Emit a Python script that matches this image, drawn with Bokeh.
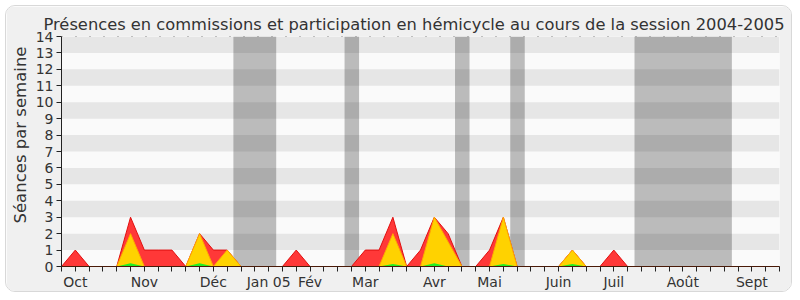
from bokeh.plotting import figure
from bokeh.models import FixedTicker, Title
from bokeh.embed import file_html
from bokeh.resources import INLINE

# ---- data (x = week index of the session, 0..52) ----
weeks = list(range(53))
total_presence = [0, 1, 0, 0, 0, 3, 1, 1, 1, 0, 2, 1, 1, 0, 0, 0, 0, 1, 0, 0,
                  0, 0, 1, 1, 3, 0, 1, 3, 2, 0, 0, 1, 3, 0, 0, 0, 0, 1, 0, 0,
                  1, 0, 0, 0, 0, 0, 0, 0, 0, 0, 0, 0, 0]
hemicycle = [0, 0, 0, 0, 0, 2, 0, 0, 0, 0, 2, 0, 1, 0, 0, 0, 0, 0, 0, 0,
             0, 0, 0, 0, 2, 0, 0, 3, 1.5, 0, 0, 0, 3, 0, 0, 0, 0, 1, 0, 0,
             0, 0, 0, 0, 0, 0, 0, 0, 0, 0, 0, 0, 0]
interventions = [0, 0, 0, 0, 0, 0.2, 0, 0, 0, 0, 0.2, 0, 0, 0, 0, 0, 0, 0, 0, 0,
                 0, 0, 0, 0, 0.15, 0, 0, 0.2, 0, 0, 0, 0, 0.15, 0, 0, 0, 0, 0.15, 0, 0,
                 0, 0, 0, 0, 0, 0, 0, 0, 0, 0, 0, 0, 0]
vac_start = [12.45, 20.5, 28.5, 32.5, 41.5]
vac_end = [15.55, 21.55, 29.55, 33.55, 48.55]
month_ticks = [1, 6, 11, 15, 18, 22, 27, 31, 36, 40, 45, 50]
month_labels = ["Oct", "Nov", "Déc", "Jan 05", "Fév", "Mar", "Avr", "Mai",
                "Juin", "Juil", "Août", "Sept"]
y_ticks = list(range(15))
title_text = "Présences en commissions et participation en hémicycle au cours de la session 2004-2005"
y_label_text = "Séances par semaine"

FONT = "DejaVu Sans"
TXT = "#333333"

p = figure(width=787, height=287, x_range=(0, 52), y_range=(0, 14),
           output_backend="svg", toolbar_location=None,
           min_border_left=55, min_border_right=14, min_border_top=30,
           min_border_bottom=27)
p.margin = (5, 0, 0, 5)
p.styles = {"border": "1px solid #d8d8d8", "border-radius": "10px", "overflow": "hidden"}
p.border_fill_color = "#f0f0f0"
p.background_fill_color = "#fafafa"
p.outline_line_color = None
p.grid.visible = False

# title
p.title.text = title_text
p.title.text_font = FONT
p.title.text_font_size = "16.3px"
p.title.text_font_style = "normal"
p.title.text_color = TXT
p.title.align = "left"
p.title.offset = -18
p.title.standoff = 6

# y-axis label as a left title (lets it be shifted along the axis)
p.add_layout(Title(text=y_label_text, text_font=FONT, text_font_size="16.5px",
                   text_font_style="normal", text_color=TXT, align="left",
                   offset=43, standoff=5), "left")

# holidays
p.quad(left=vac_start, right=vac_end, bottom=0, top=14,
       fill_color="#bbbbbb", line_color=None)
# alternating stripes
stripe_b = [v for v in y_ticks[1:14:2]]
stripe_t = [v + 1 for v in stripe_b]
p.quad(left=0, right=52, bottom=stripe_b, top=stripe_t,
       fill_color="black", fill_alpha=0.08, line_color=None)

# top dotted line
p.line([0, 52], [14, 14], line_color="#222222", line_width=1, line_dash="1 13")

# series
p.varea(x=weeks, y1=0, y2=total_presence, fill_color="#ff3838")
p.line(weeks, total_presence, line_color="#e01010", line_width=1)
p.varea(x=weeks, y1=0, y2=hemicycle, fill_color="#ffd200")
p.line(weeks, hemicycle, line_color="#ffaa00", line_width=1)
p.varea(x=weeks, y1=0, y2=interventions, fill_color="#22ee22")

# axes
overrides = {float(w): "" for w in weeks}
overrides.update({float(t): l for t, l in zip(month_ticks, month_labels)})
xa = p.xaxis[0]
xa.ticker = FixedTicker(ticks=weeks)
xa.major_label_overrides = overrides
xa.axis_line_color = "#4a1a08"
xa.major_tick_line_color = "#222222"
xa.major_tick_out = 5
xa.major_tick_in = 0
xa.minor_tick_line_color = None
xa.major_label_text_font = FONT
xa.major_label_text_font_size = "14px"
xa.major_label_text_color = TXT
xa.major_label_standoff = 2

ya = p.yaxis[0]
ya.ticker = FixedTicker(ticks=y_ticks)
ya.axis_line_color = "#222222"
ya.major_tick_line_color = "#222222"
ya.major_tick_out = 5
ya.major_tick_in = 0
ya.minor_tick_line_color = None
ya.major_label_text_font = FONT
ya.major_label_text_font_size = "14px"
ya.major_label_text_color = TXT
ya.major_label_standoff = 3

open("out.html", "w").write(file_html(p, INLINE))
